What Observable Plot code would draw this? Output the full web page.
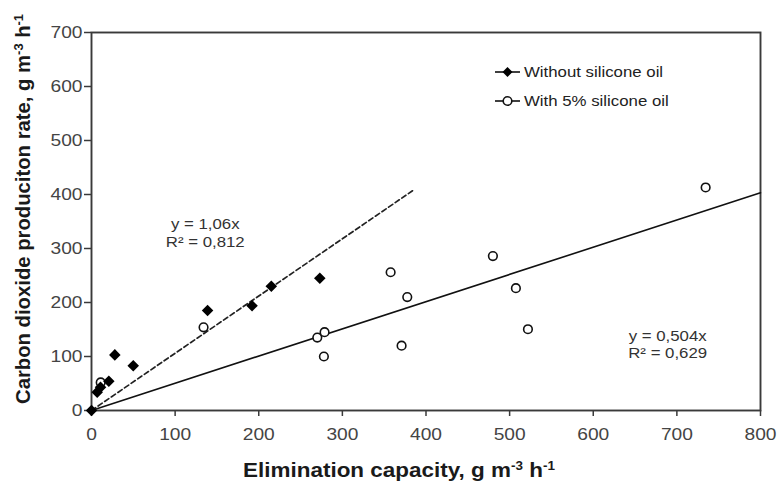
<!DOCTYPE html>
<html><head><meta charset="utf-8">
<script src="https://cdn.jsdelivr.net/npm/d3@7"></script>
<script src="https://cdn.jsdelivr.net/npm/@observablehq/plot@0.6"></script>
<style>
html,body{margin:0;padding:0;background:#fff;}
#chart{position:relative;width:780px;height:486px;overflow:hidden;}
</style></head><body><div id="chart"></div>
<script>
// ---- data ----
const xTicks = [0, 100, 200, 300, 400, 500, 600, 700, 800];
const yTicks = [0, 100, 200, 300, 400, 500, 600, 700];
const seriesNames = ["Without silicone oil", "With 5% silicone oil"];
const withoutX = [0, 6.8, 10.8, 20.7, 27.9, 49.9, 138.8, 192, 215, 273];
const withoutY = [0, 34, 43, 54, 103, 83, 185, 194, 230, 245];
const withX = [11, 134, 270, 278.7, 277.9, 357.7, 370.8, 377.6, 480, 507.5, 521.9, 734.4];
const withY = [52, 154, 135, 145, 100, 256, 120, 210, 286, 226.5, 150.5, 413];
const fitSlopes = [1.06, 0.504];
const fitXEnd = [384, 800];
const fitText = ["y = 1,06x", "R² = 0,812", "y = 0,504x", "R² = 0,629"];
const fitTextX = [136, 136, 689, 689];
const fitTextY = [344, 312, 137, 105.6];
const xTitle = ["Elimination capacity, g m", "-3", " h", "-1"];
const yTitle = ["Carbon dioxide produciton rate, g m", "-3", " h", "-1"];

// ---- tables ----
const withoutData = withoutX.map((x, i) => ({x, y: withoutY[i]}));
const withData = withX.map((x, i) => ({x, y: withY[i]}));
const fitLines = fitSlopes.map((s, i) => [{x: 0, y: 0}, {x: fitXEnd[i], y: s * fitXEnd[i]}]);
const fitLabels = fitText.map((t, i) => ({t, x: fitTextX[i], y: fitTextY[i]}));

const FONT = "'Liberation Sans', Arial, Helvetica, sans-serif";
const plot = Plot.plot({
  width: 780, height: 486,
  marginLeft: 91, marginRight: 20, marginTop: 32, marginBottom: 76,
  style: {fontFamily: FONT, background: "#fff", overflow: "visible"},
  x: {domain: [0, 800]},
  y: {domain: [0, 700]},
  marks: [
    Plot.frame({stroke: "#3a3a3a", strokeWidth: 1.9}),
    Plot.axisX({ticks: xTicks, tickSize: 6, tickPadding: 12, fontSize: 16, label: null, stroke: "#3a3a3a", strokeWidth: 1.5, fill: "#444", tickFormat: d => String(d)}),
    Plot.axisY({ticks: yTicks, tickSize: 7, tickPadding: 2, fontSize: 16, label: null, stroke: "#3a3a3a", strokeWidth: 1.5, fill: "#444", tickFormat: d => String(d)}),
    Plot.line(fitLines[0], {x: "x", y: "y", stroke: "#222", strokeWidth: 1.7, strokeDasharray: "5,3"}),
    Plot.line(fitLines[1], {x: "x", y: "y", stroke: "#111", strokeWidth: 1.6}),
    Plot.dot(withData, {x: "x", y: "y", r: 4.3, stroke: "#111", fill: "white", strokeWidth: 1.6}),
    Plot.dot(withoutData, {x: "x", y: "y", symbol: "square", rotate: 45, r: 4.6, fill: "#000", stroke: "none"}),
    Plot.text(fitLabels, {x: "x", y: "y", text: "t", fontSize: 14, fill: "#333", textAnchor: "middle"})
  ]
});
document.getElementById("chart").appendChild(plot);

const svg = d3.select(plot);
// stretch Plot's texts horizontally (reference is horizontally stretched)
svg.selectAll("text").each(function() {
  const w = this.getComputedTextLength();
  if (w > 0) { this.setAttribute("textLength", (w * 1.2).toFixed(1)); this.setAttribute("lengthAdjust", "spacingAndGlyphs"); }
});

// axis titles
function title(parts, attrs, len, size) {
  const t = svg.append("text").attr("font-family", FONT).attr("font-weight", "bold")
    .attr("font-size", size).attr("fill", "#1a1a1a").attr("text-anchor", "middle");
  for (const [k, v] of Object.entries(attrs)) t.attr(k, v);
  parts.forEach((p, i) => {
    const s = t.append("tspan").text(p);
    if (i % 2 === 1) s.attr("baseline-shift", "super").attr("font-size", Math.round(size * 0.62));
  });
  t.attr("textLength", len).attr("lengthAdjust", "spacingAndGlyphs");
}
title(xTitle, {x: 399, y: 477}, 312, 20);
title(yTitle, {transform: "translate(30,209) rotate(-90)"}, 390, 20.5);

// legend
const leg = svg.append("g").attr("font-family", FONT).attr("text-anchor", "start");
seriesNames.forEach((name, i) => {
  const y = 72 + i * 29;
  leg.append("line").attr("x1", 495).attr("x2", 520).attr("y1", y).attr("y2", y).attr("stroke", "#111").attr("stroke-width", 1.6);
  if (i === 0) {
    leg.append("path").attr("d", d3.symbol(d3.symbolSquare, 50)()).attr("transform", `translate(507.5,${y}) rotate(45)`).attr("fill", "#000");
  } else {
    leg.append("circle").attr("cx", 507.5).attr("cy", y).attr("r", 4.3).attr("fill", "white").attr("stroke", "#111").attr("stroke-width", 1.6);
  }
  const t = leg.append("text").attr("x", 524).attr("y", y + 5).attr("font-size", 14).attr("fill", "#222").attr("text-anchor", "start").text(name);
  const w = t.node().getComputedTextLength();
  t.attr("textLength", (w * 1.2).toFixed(1)).attr("lengthAdjust", "spacingAndGlyphs");
});
</script></body></html>
